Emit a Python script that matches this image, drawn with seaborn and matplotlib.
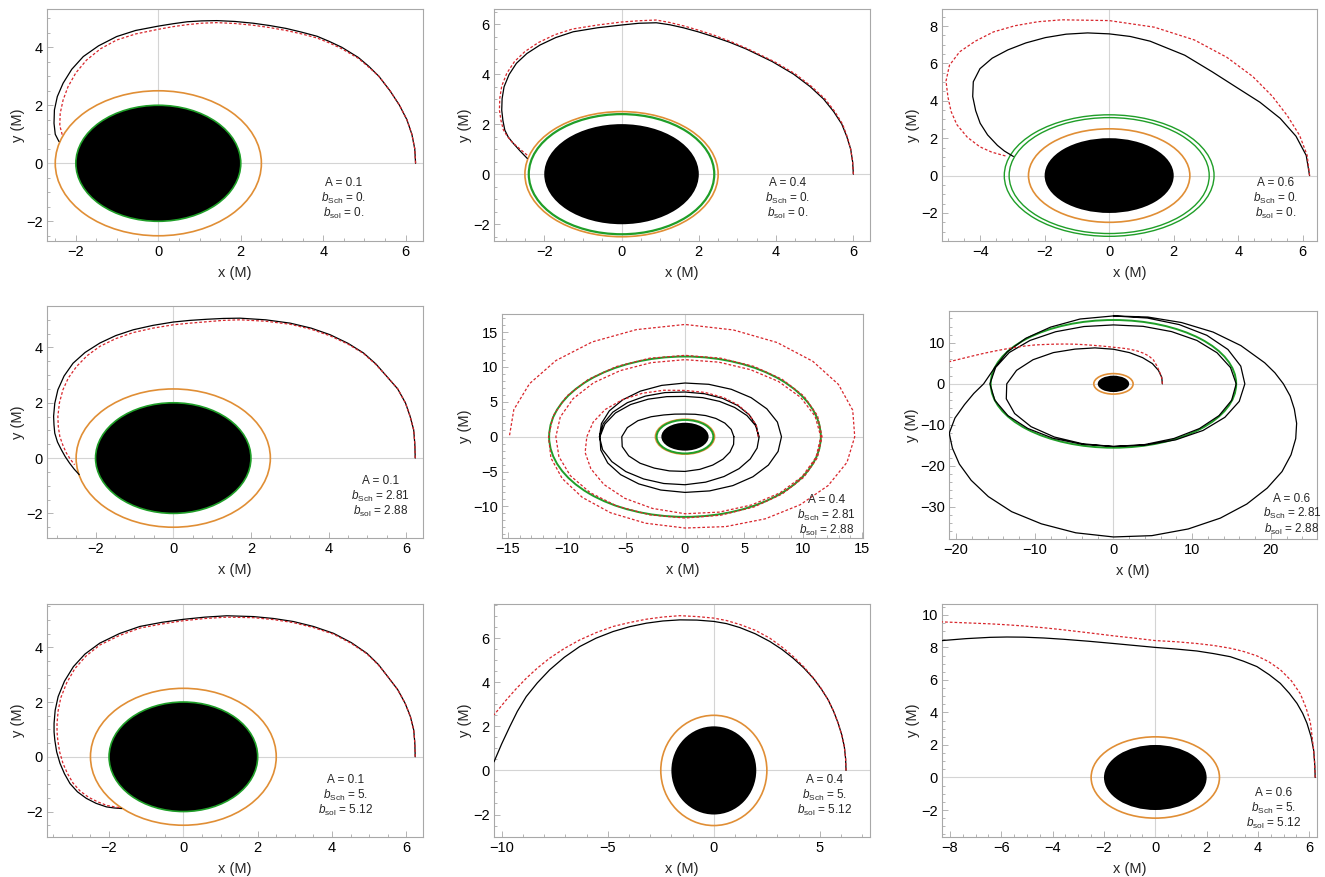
import numpy as np
import matplotlib
matplotlib.use("Agg")
import matplotlib.pyplot as plt
from matplotlib.patches import Circle
from matplotlib.ticker import MultipleLocator, AutoMinorLocator
import seaborn as sns

# ---- panel parameters ----
A_vals = ["0.1", "0.4", "0.6"]
b_sch = ["0.", "2.81", "5."]
b_sol = ["0.", "2.88", "5.12"]

r_horizon = 2.0
r_photon = 2.5
green_r = [[2.0], [2.4], [3.1, 3.25],
           [2.0], [2.4, 11.5], [15.6],
           [2.0], [], []]

# ---- orbits (x, y in M) ----
# row 1: b = 0
p00_black_x = [6.24, 6.22, 6.15, 6.03, 5.85, 5.62, 5.35, 5.10, 4.85, 4.45, 4.15, 3.85, 3.48, 3.10, 2.70, 2.30, 1.86, 1.42, 1.05, 0.70, 0.35, 0.00, -0.55, -1.01, -1.45, -1.82, -2.10, -2.31, -2.45, -2.52, -2.53, -2.50, -2.41]
p00_black_y = [0.00, 0.50, 1.00, 1.50, 2.00, 2.50, 3.00, 3.35, 3.65, 4.00, 4.20, 4.38, 4.52, 4.65, 4.75, 4.83, 4.89, 4.92, 4.91, 4.88, 4.81, 4.73, 4.58, 4.37, 4.05, 3.68, 3.24, 2.76, 2.30, 1.84, 1.38, 1.00, 0.75]
p00_red_x = [6.24, 6.22, 6.15, 6.03, 5.85, 5.62, 5.35, 5.10, 4.85, 4.45, 4.15, 3.85, 3.48, 3.10, 2.70, 2.30, 1.86, 1.42, 1.05, 0.70, 0.35, 0.00, -0.55, -1.01, -1.40, -1.74, -2.00, -2.19, -2.31, -2.38, -2.39, -2.33]
p00_red_y = [0.00, 0.50, 1.00, 1.50, 2.00, 2.50, 3.00, 3.32, 3.62, 3.95, 4.15, 4.32, 4.46, 4.58, 4.68, 4.76, 4.82, 4.85, 4.83, 4.78, 4.71, 4.62, 4.46, 4.25, 3.95, 3.56, 3.12, 2.64, 2.18, 1.72, 1.30, 0.98]

p01_black_x = [6.00, 5.98, 5.93, 5.83, 5.70, 5.49, 5.23, 4.88, 4.45, 3.90, 3.23, 2.80, 2.37, 1.98, 1.60, 1.25, 0.90, 0.45, 0.00, -0.62, -1.25, -1.70, -2.11, -2.45, -2.72, -2.91, -3.04, -3.09, -3.10, -3.07, -3.02, -2.93, -2.80, -2.62, -2.44]
p01_black_y = [0.00, 0.50, 1.00, 1.50, 2.00, 2.50, 3.00, 3.50, 4.00, 4.50, 5.00, 5.27, 5.50, 5.69, 5.85, 5.97, 6.05, 6.03, 5.96, 5.85, 5.69, 5.46, 5.16, 4.82, 4.43, 3.98, 3.49, 3.02, 2.56, 2.15, 1.76, 1.48, 1.23, 0.92, 0.63]
p01_red_x = [6.00, 5.98, 5.93, 5.84, 5.72, 5.52, 5.27, 4.92, 4.50, 3.95, 3.28, 2.84, 2.40, 2.00, 1.62, 1.25, 0.90, 0.45, 0.00, -0.62, -1.27, -1.73, -2.15, -2.50, -2.77, -2.97, -3.10, -3.15, -3.16, -3.12, -3.06, -2.96, -2.83, -2.64, -2.44]
p01_red_y = [0.00, 0.50, 1.00, 1.50, 2.00, 2.50, 3.00, 3.50, 4.00, 4.50, 5.00, 5.29, 5.55, 5.75, 5.92, 6.06, 6.16, 6.13, 6.08, 5.96, 5.80, 5.57, 5.26, 4.90, 4.50, 4.03, 3.52, 3.04, 2.56, 2.15, 1.78, 1.52, 1.28, 1.02, 0.76]

# polar readings (angle in degrees, radius in M)
p02_black_phi = [0, 10, 20, 30, 40, 50, 60, 70, 80, 85, 90, 95, 100, 105, 110, 115, 120, 125, 130, 135, 140, 145, 150, 155, 158, 161]
p02_black_r = [6.21, 6.20, 6.16, 6.12, 6.10, 6.15, 6.40, 6.85, 7.30, 7.47, 7.58, 7.66, 7.68, 7.64, 7.55, 7.42, 7.25, 6.98, 6.55, 5.98, 5.40, 4.88, 4.35, 3.82, 3.50, 3.14]
p02_red_phi = [0, 10, 20, 30, 40, 50, 60, 70, 80, 90, 100, 105, 110, 115, 120, 125, 130, 135, 140, 145, 150, 155, 159, 161, 162]
p02_red_r = [6.21, 6.23, 6.28, 6.38, 6.60, 6.92, 7.30, 7.72, 8.06, 8.29, 8.46, 8.52, 8.53, 8.48, 8.30, 8.08, 7.70, 7.15, 6.52, 5.98, 5.45, 4.85, 4.29, 3.85, 3.34]

# row 2: b_Sch = 2.81, b_sol = 2.88
p10_black_x = [6.23, 6.22, 6.19, 6.10, 5.98, 5.78, 5.50, 5.22, 4.90, 4.50, 4.04, 3.55, 3.01, 2.38, 1.72, 1.29, 0.86, 0.43, 0.00, -0.52, -1.03, -1.48, -1.89, -2.27, -2.58, -2.81, -2.97, -3.05, -3.08, -3.07, -3.05, -2.98, -2.88, -2.78, -2.67, -2.55, -2.42]
p10_black_y = [0.00, 0.50, 1.02, 1.50, 1.99, 2.50, 2.95, 3.40, 3.80, 4.15, 4.46, 4.70, 4.88, 5.00, 5.06, 5.05, 5.02, 4.98, 4.92, 4.80, 4.64, 4.43, 4.16, 3.82, 3.43, 2.97, 2.47, 1.98, 1.51, 1.20, 0.90, 0.58, 0.30, 0.05, -0.18, -0.40, -0.60]
p10_red_x = [6.23, 6.22, 6.19, 6.10, 5.98, 5.78, 5.50, 5.22, 4.90, 4.50, 4.04, 3.55, 3.01, 2.38, 1.72, 1.29, 0.86, 0.43, 0.00, -0.52, -1.03, -1.48, -1.89, -2.22, -2.49, -2.70, -2.84, -2.93, -2.97, -2.96, -2.92, -2.84, -2.75, -2.65, -2.54]
p10_red_y = [0.00, 0.50, 1.02, 1.50, 1.99, 2.50, 2.95, 3.38, 3.78, 4.12, 4.42, 4.66, 4.84, 4.95, 5.00, 4.98, 4.93, 4.88, 4.82, 4.70, 4.54, 4.32, 4.04, 3.70, 3.31, 2.90, 2.47, 2.00, 1.51, 1.15, 0.78, 0.46, 0.18, -0.04, -0.24]

p11_black_phi = [0, 15, 30, 45, 60, 75, 90, 105, 120, 135, 150, 165, 180, 195, 210, 225, 240, 255, 270, 285, 300, 315, 330, 345, 360,
                 375, 390, 405, 420, 435, 450, 465, 480, 495, 510, 525, 540, 555, 570, 585, 600, 615, 630, 645, 660, 675, 690, 705, 720,
                 735, 750, 765, 780, 795, 810, 825, 840, 855, 870, 885, 900]
p11_black_r = [6.22, 6.25, 6.28, 6.32, 6.35, 6.38, 6.41, 6.55, 6.72, 6.90, 7.05, 7.17, 7.24, 7.22, 7.15, 7.08, 7.00, 6.95, 6.89, 6.75, 6.60, 6.48, 6.38, 6.32, 6.28,
               6.18, 6.06, 5.94, 5.85, 5.80, 5.78, 5.95, 6.22, 6.52, 6.80, 7.02, 7.20, 7.38, 7.55, 7.70, 7.82, 7.92, 7.99, 8.05, 8.10, 8.13, 8.15, 8.16, 8.17,
               8.10, 8.00, 7.92, 7.85, 7.78, 7.70, 7.62, 7.55, 7.47, 7.40, 7.32, 7.24]
p11_inner_phi = [0, 15, 30, 45, 60, 75, 90, 105, 120, 135, 150, 165, 180, 195, 210, 225, 240, 255, 270, 285, 300, 315, 330, 345, 360]
p11_inner_r = [4.14, 4.05, 3.90, 3.70, 3.50, 3.33, 3.25, 3.35, 3.60, 4.05, 4.60, 5.05, 5.35, 5.50, 5.50, 5.38, 5.20, 5.08, 4.98, 4.85, 4.70, 4.55, 4.40, 4.26, 4.14]
p11_red_phi = [0, 15, 30, 45, 60, 75, 90, 105, 120, 135, 150, 165, 180, 195, 210, 225, 240, 255, 270, 285, 300, 315, 330, 345, 360,
               375, 390, 405, 420, 435, 450, 465, 480, 495, 510, 525, 540, 555, 570, 585, 600, 615, 630, 645, 660, 675, 690, 705, 720,
               735, 750, 765, 780, 795, 810, 825, 840, 855, 870, 885, 900, 915, 930, 945, 960, 975, 990, 1005, 1020, 1035, 1050, 1065, 1080,
               1095, 1110, 1125, 1140, 1155, 1170, 1185, 1200, 1215, 1230, 1245, 1260]
p11_red_r = [6.20, 6.25, 6.30, 6.40, 6.50, 6.57, 6.64, 6.90, 7.20, 7.50, 7.80, 8.05, 8.31, 8.75, 9.20, 9.70, 10.2, 10.65, 11.05, 11.2, 11.3, 11.38, 11.45, 11.48, 11.5,
             11.4, 11.3, 11.2, 11.1, 11.07, 11.05, 11.0, 10.95, 10.94, 10.93, 10.93, 10.93, 11.05, 11.2, 11.35, 11.5, 11.6, 11.67, 11.66, 11.65, 11.63, 11.62, 11.61, 11.6,
             11.62, 11.63, 11.64, 11.65, 11.66, 11.67, 11.65, 11.62, 11.6, 11.58, 11.56, 11.55, 11.75, 12.0, 12.3, 12.6, 12.85, 13.1, 13.35, 13.6, 13.8, 14.0, 14.2, 14.37,
             14.7, 15.0, 15.3, 15.6, 15.85, 16.1, 15.9, 15.7, 15.45, 15.2, 15.0, 14.87]

p12_black_phi = [0, 15, 30, 45, 60, 75, 90, 105, 120, 135, 150, 165, 180, 195, 210, 225, 240, 255, 270, 285, 300, 315, 330, 345, 360,
                 375, 390, 405, 420, 435, 450, 465, 480, 495, 510, 525, 540, 555, 570, 585, 600, 615, 630, 645, 660, 675, 690, 705, 720,
                 735, 750, 765, 780, 795, 810, 825, 840, 855, 870, 885, 900, 907.5, 915, 922.5, 930, 937.5, 945, 952.5, 960, 967.5, 975, 982.5, 990,
                 997.5, 1005, 1012.5, 1020, 1027.5, 1035, 1042.5, 1050, 1057.5, 1065, 1072.5, 1080, 1087.5, 1095, 1110, 1125, 1140, 1155, 1170]
p12_black_r = [6.22, 6.35, 6.60, 7.00, 7.40, 7.90, 8.46, 9.10, 9.80, 10.8, 11.8, 12.75, 13.56, 14.1, 14.5, 14.8, 15.0, 15.15, 15.3, 15.35, 15.4, 15.45, 15.5, 15.55, 15.6,
               15.4, 15.2, 15.0, 14.75, 14.55, 14.4, 14.5, 14.7, 15.0, 15.3, 15.5, 15.7, 15.6, 15.5, 15.4, 15.35, 15.3, 15.3, 15.5, 15.8, 16.1, 16.35, 16.55, 16.7,
               16.75, 16.8, 16.78, 16.72, 16.65, 16.6, 16.4, 16.0, 15.75, 15.6, 15.6, 16.5, 17.9, 19.6, 21.8, 24.1, 25.8, 27.7, 29.7, 31.8, 33.8, 35.4, 36.7, 37.4,
               37.4, 36.7, 35.5, 33.9, 32.1, 30.3, 28.45, 26.75, 25.2, 23.8, 22.65, 21.6, 20.7, 19.9, 18.7, 17.9, 17.3, 16.9, 16.6]
p12_red_x = [6.22, 6.15, 5.93, 5.55, 5.08, 4.50, 3.80, 3.00, 2.10, 1.05, 0.00, -1.25, -2.50, -3.75, -5.00, -6.25, -7.50, -8.75, -10.0, -11.25, -12.5, -13.75, -15.0, -16.25, -17.5, -19.1, -20.8]
p12_red_y = [0.00, 1.30, 2.60, 4.30, 5.85, 6.80, 7.50, 8.05, 8.46, 8.75, 8.94, 9.20, 9.40, 9.58, 9.70, 9.73, 9.70, 9.62, 9.50, 9.25, 8.90, 8.50, 8.05, 7.55, 7.00, 6.25, 5.45]

# row 3: b_Sch = 5, b_sol = 5.12
p20_black_x = [6.24, 6.23, 6.20, 6.11, 5.97, 5.77, 5.50, 5.25, 4.94, 4.52, 4.04, 3.50, 2.96, 2.43, 1.89, 1.17, 0.58, 0.00, -0.58, -1.17, -1.72, -2.25, -2.65, -2.96, -3.20, -3.37, -3.45, -3.48, -3.48, -3.46, -3.41, -3.32, -3.20, -3.05, -2.85, -2.61, -2.35, -2.07, -1.86, -1.66]
p20_black_y = [0.00, 0.50, 0.98, 1.47, 1.95, 2.45, 2.93, 3.37, 3.78, 4.17, 4.51, 4.76, 4.94, 5.05, 5.12, 5.15, 5.10, 5.02, 4.91, 4.76, 4.50, 4.15, 3.75, 3.29, 2.76, 2.20, 1.70, 1.22, 0.91, 0.61, 0.18, -0.24, -0.62, -0.98, -1.28, -1.52, -1.70, -1.83, -1.87, -1.89]
p20_red_x = [6.24, 6.23, 6.20, 6.11, 5.97, 5.77, 5.50, 5.25, 4.94, 4.52, 4.04, 3.50, 2.96, 2.43, 1.89, 1.17, 0.58, 0.00, -0.58, -1.17, -1.72, -2.25, -2.62, -2.92, -3.14, -3.30, -3.37, -3.40, -3.40, -3.38, -3.33, -3.24, -3.12, -2.97, -2.78, -2.55, -2.30, -2.05, -1.72]
p20_red_y = [0.00, 0.50, 0.98, 1.47, 1.95, 2.45, 2.93, 3.35, 3.76, 4.14, 4.48, 4.72, 4.90, 5.01, 5.08, 5.10, 5.05, 4.97, 4.85, 4.70, 4.43, 4.08, 3.68, 3.22, 2.70, 2.15, 1.68, 1.22, 0.91, 0.61, 0.18, -0.24, -0.61, -0.96, -1.25, -1.48, -1.65, -1.78, -1.86]

p21_black_x = [6.23, 6.21, 6.15, 6.03, 5.86, 5.65, 5.39, 5.06, 4.69, 4.24, 3.74, 3.21, 2.64, 1.95, 1.23, 0.60, 0.00, -0.80, -1.60, -2.40, -3.18, -3.97, -4.75, -5.55, -6.32, -7.05, -7.74, -8.32, -8.84, -9.26, -9.62, -10.00, -10.36]
p21_black_y = [0.00, 0.54, 1.08, 1.61, 2.14, 2.67, 3.20, 3.70, 4.18, 4.65, 5.09, 5.49, 5.85, 6.20, 6.48, 6.66, 6.76, 6.82, 6.83, 6.78, 6.68, 6.52, 6.30, 6.00, 5.62, 5.13, 4.56, 3.97, 3.35, 2.68, 1.98, 1.20, 0.39]
p21_red_x = [6.23, 6.21, 6.15, 6.03, 5.86, 5.65, 5.39, 5.06, 4.69, 4.24, 3.74, 3.21, 2.64, 1.95, 1.23, 0.60, 0.00, -0.80, -1.60, -2.40, -3.18, -3.97, -4.75, -5.55, -6.32, -7.05, -7.74, -8.32, -8.84, -9.32, -9.78, -10.36]
p21_red_y = [0.00, 0.54, 1.08, 1.61, 2.14, 2.67, 3.20, 3.72, 4.20, 4.70, 5.17, 5.60, 6.00, 6.36, 6.62, 6.80, 6.91, 6.98, 7.02, 6.96, 6.86, 6.71, 6.53, 6.25, 5.92, 5.53, 5.09, 4.64, 4.18, 3.70, 3.20, 2.52]

p22_black_x = [6.23, 6.21, 6.17, 6.07, 5.91, 5.74, 5.52, 5.22, 4.87, 4.44, 3.96, 3.44, 2.92, 2.27, 1.62, 0.81, 0.00, -0.81, -1.62, -2.60, -3.57, -4.35, -5.13, -5.78, -6.43, -7.37, -8.31]
p22_black_y = [0.00, 0.84, 1.68, 2.50, 3.33, 3.95, 4.56, 5.18, 5.79, 6.32, 6.82, 7.15, 7.43, 7.62, 7.78, 7.90, 8.00, 8.12, 8.24, 8.38, 8.50, 8.58, 8.63, 8.64, 8.62, 8.54, 8.42]
p22_red_x = [6.23, 6.21, 6.17, 6.11, 6.04, 5.87, 5.65, 5.30, 4.87, 4.42, 3.96, 3.44, 2.92, 2.27, 1.62, 0.81, 0.00, -0.81, -1.62, -2.60, -3.57, -4.35, -5.13, -5.78, -6.43, -7.37, -8.31]
p22_red_y = [0.00, 0.84, 1.68, 2.50, 3.40, 4.30, 5.15, 5.95, 6.63, 7.12, 7.48, 7.75, 7.95, 8.12, 8.24, 8.35, 8.42, 8.57, 8.71, 8.90, 9.08, 9.21, 9.32, 9.39, 9.45, 9.51, 9.57]


def polar_xy(phi, r):
    t = np.radians(phi)
    r = np.asarray(r)
    return r * np.cos(t), r * np.sin(t)


p02_black_x, p02_black_y = polar_xy(p02_black_phi, p02_black_r)
p02_red_x, p02_red_y = polar_xy(p02_red_phi, p02_red_r)
p11_black_x, p11_black_y = polar_xy(p11_black_phi, p11_black_r)
p11_inner_x, p11_inner_y = polar_xy(p11_inner_phi, p11_inner_r)
p11_red_x, p11_red_y = polar_xy(p11_red_phi, p11_red_r)
p12_black_x, p12_black_y = polar_xy(p12_black_phi, p12_black_r)

black_orbits = [
    [(p00_black_x, p00_black_y)], [(p01_black_x, p01_black_y)], [(p02_black_x, p02_black_y)],
    [(p10_black_x, p10_black_y)], [(p11_black_x, p11_black_y), (p11_inner_x, p11_inner_y)], [(p12_black_x, p12_black_y)],
    [(p20_black_x, p20_black_y)], [(p21_black_x, p21_black_y)], [(p22_black_x, p22_black_y)],
]
red_orbits = [
    (p00_red_x, p00_red_y), (p01_red_x, p01_red_y), (p02_red_x, p02_red_y),
    (p10_red_x, p10_red_y), (p11_red_x, p11_red_y), (p12_red_x, p12_red_y),
    (p20_red_x, p20_red_y), (p21_red_x, p21_red_y), (p22_red_x, p22_red_y),
]

# ---- layout (pixel boxes: left, top, right, bottom) and axis setup ----
W, H = 1325, 877
boxes = [(47, 9, 423, 241), (494, 9, 870, 241), (942, 9, 1317, 241),
         (47, 306, 423, 538), (502, 314, 863, 538), (949, 311, 1317, 539),
         (47, 604, 423, 837), (494, 604, 870, 837), (942, 604, 1317, 837)]
xlims = [(-2.70, 6.42), (-3.30, 6.43), (-5.18, 6.44),
         (-3.25, 6.43), (-15.49, 15.07), (-20.9, 25.87),
         (-3.67, 6.45), (-10.36, 7.36), (-8.31, 6.30)]
ylims = [(-2.68, 5.32), (-2.67, 6.60), (-3.50, 8.91),
         (-2.89, 5.50), (-14.53, 17.6), (-37.9, 17.8),
         (-2.93, 5.58), (-3.02, 7.55), (-3.66, 10.67)]
xmajor = [2, 2, 2, 2, 5, 10, 2, 5, 2]
ymajor = [2, 2, 2, 2, 5, 10, 2, 2, 2]
text_pos = [(0.79, 0.25), (0.78, 0.25), (0.89, 0.25),
            (0.886, 0.244), (0.90, 0.168), (0.932, 0.177),
            (0.794, 0.244), (0.88, 0.244), (0.884, 0.19)]
green_lw = [1.2, 1.6, 1.0, 1.2, 1.4, 1.4, 1.2, 1.2, 1.2]

sns.set_theme(style="white")
plt.rcParams["font.family"] = ["Liberation Sans", "DejaVu Sans"]
plt.rcParams["mathtext.fontset"] = "custom"
plt.rcParams["mathtext.rm"] = "Liberation Sans"
plt.rcParams["mathtext.it"] = "Liberation Sans:italic"

BLACK = "#000000"
RED = "#d8262c"
ORANGE = "#e08e35"
GREEN = "#1f9e28"
FRAME = "#a8a8a8"

fig = plt.figure(figsize=(W / 100, H / 100), dpi=100)

for i in range(9):
    l, t, r, b = boxes[i]
    ax = fig.add_axes([l / W, 1 - b / H, (r - l) / W, (b - t) / H])
    row, col = divmod(i, 3)

    ax.axhline(0, color="#d4d4d4", lw=0.8, zorder=1)
    ax.axvline(0, color="#d4d4d4", lw=0.8, zorder=1)

    ax.add_patch(Circle((0, 0), r_horizon, fc="black", ec="none", zorder=2))
    ax.add_patch(Circle((0, 0), r_photon, fill=False, ec=ORANGE, lw=1.2, zorder=3))
    for rg in green_r[i]:
        ax.add_patch(Circle((0, 0), rg, fill=False, ec=GREEN, lw=green_lw[i], zorder=3))

    for bx, by in black_orbits[i]:
        sns.lineplot(x=np.asarray(bx), y=np.asarray(by), sort=False, estimator=None,
                     color=BLACK, lw=0.9, ax=ax, zorder=5)
    rx, ry = red_orbits[i]
    sns.lineplot(x=np.asarray(rx), y=np.asarray(ry), sort=False, estimator=None,
                 color=RED, lw=0.9, linestyle=(0, (2.2, 1.6)), ax=ax, zorder=6)

    ax.set_xlim(*xlims[i])
    ax.set_ylim(*ylims[i])
    ax.xaxis.set_major_locator(MultipleLocator(xmajor[i]))
    ax.yaxis.set_major_locator(MultipleLocator(ymajor[i]))
    ax.xaxis.set_minor_locator(AutoMinorLocator(4 if xmajor[i] == 2 else 5))
    ax.yaxis.set_minor_locator(AutoMinorLocator(4 if ymajor[i] == 2 else 5))
    ax.tick_params(which="both", direction="in", color=FRAME, width=0.6,
                   top=False, right=False, bottom=True, left=True)
    ax.tick_params(which="major", length=4, labelsize=10.5, pad=3, labelcolor="black")
    ax.tick_params(which="minor", length=2)
    for s in ax.spines.values():
        s.set_color(FRAME)
        s.set_linewidth(0.8)
    ax.set_xlabel("x (M)", fontsize=10.5, labelpad=5)
    ax.set_ylabel("y (M)", fontsize=10.5, labelpad=1)

    tx, ty = text_pos[i]
    lines = ["A = " + A_vals[col],
             r"$b_{\mathrm{Sch}}$ = " + b_sch[row],
             r"$b_{\mathrm{sol}}$ = " + b_sol[row]]
    for k, s in enumerate(lines):
        ax.annotate(s, xy=(tx, ty), xycoords="axes fraction",
                    xytext=(0, -11.0 * k), textcoords="offset points",
                    ha="center", va="center", fontsize=8.5, zorder=7)

fig.savefig("out.png", dpi=100)
